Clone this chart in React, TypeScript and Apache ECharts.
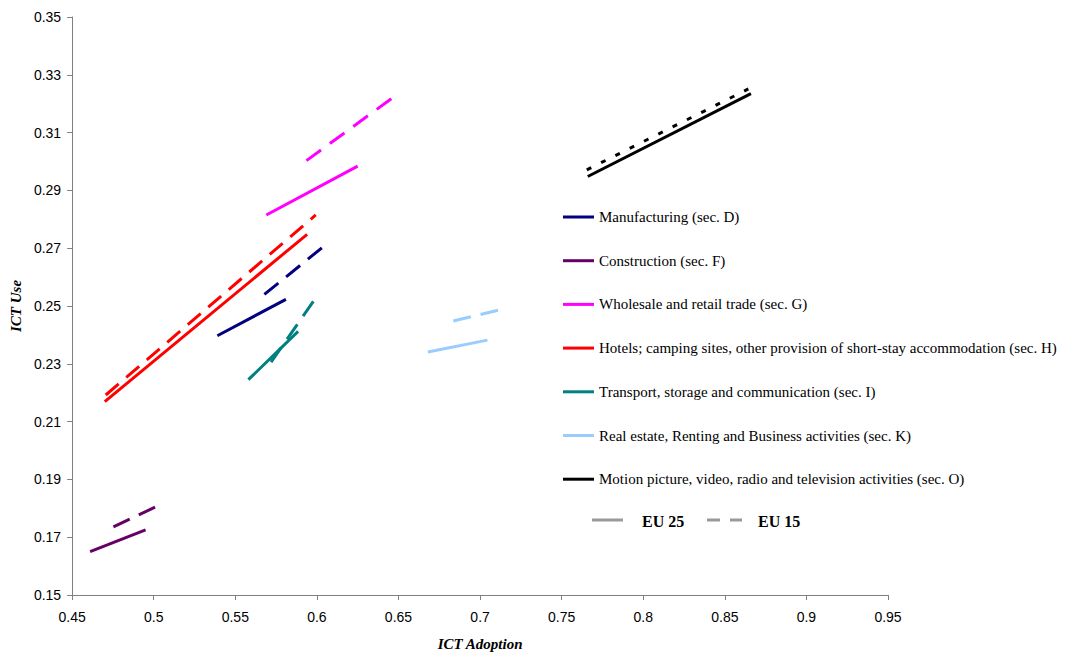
import React, { useEffect, useRef } from "react";
import * as echarts from "echarts";

const sectors = [
  "Manufacturing (sec. D)",
  "Construction (sec. F)",
  "Wholesale and retail trade (sec. G)",
  "Hotels; camping sites, other provision of short-stay accommodation (sec. H)",
  "Transport, storage and communication (sec. I)",
  "Real estate, Renting and Business activities (sec. K)",
  "Motion picture, video, radio and television activities (sec. O)",
];
const colors = ["#000080", "#660066", "#FF00FF", "#FF0000", "#008080", "#99CCFF", "#000000"];

// EU 25 (solid)
const eu25AdoptionStart = [0.539, 0.461, 0.569, 0.47, 0.558, 0.668, 0.766];
const eu25AdoptionEnd = [0.581, 0.495, 0.625, 0.594, 0.5885, 0.7045, 0.866];
const eu25UseStart = [0.2397, 0.165, 0.2815, 0.2169, 0.2245, 0.2341, 0.2948];
const eu25UseEnd = [0.2523, 0.1725, 0.2984, 0.2748, 0.2412, 0.2382, 0.3235];

// EU 15 (dashed)
const eu15AdoptionStart = [0.5678, 0.4753, 0.5936, 0.4706, 0.5719, 0.6836, 0.7654];
const eu15AdoptionEnd = [0.6058, 0.5039, 0.6482, 0.5993, 0.5983, 0.7143, 0.8644];
const eu15UseStart = [0.254, 0.1736, 0.3003, 0.2192, 0.2306, 0.2448, 0.2971];
const eu15UseEnd = [0.2714, 0.1812, 0.3228, 0.2815, 0.252, 0.249, 0.3251];

const dashPatterns = [[18, 10], [18, 10], [18, 11], [17, 10], [18, 10], [18, 10], [5, 11]];

const xTicks = { min: 0.45, max: 0.95, interval: 0.05 };
const yTicks = { min: 0.15, max: 0.35, interval: 0.02 };

export default function App() {
  const ref = useRef<HTMLDivElement>(null);
  useEffect(() => {
    if (!ref.current) return;
    const chart = echarts.init(ref.current, undefined, { renderer: "svg" });
    const series: any[] = [];
    sectors.forEach((name, i) => {
      series.push({
        name,
        type: "line",
        showSymbol: false,
        symbol: "none",
        color: colors[i],
        lineStyle: { color: colors[i], width: 3, type: "solid" },
        data: [
          [eu25AdoptionStart[i], eu25UseStart[i]],
          [eu25AdoptionEnd[i], eu25UseEnd[i]],
        ],
      });
    });
    sectors.forEach((name, i) => {
      series.push({
        name,
        type: "line",
        showSymbol: false,
        symbol: "none",
        color: colors[i],
        lineStyle: { color: colors[i], width: 3, type: dashPatterns[i] },
        data: [
          [eu15AdoptionStart[i], eu15UseStart[i]],
          [eu15AdoptionEnd[i], eu15UseEnd[i]],
        ],
      });
    });
    const axisFont = { fontFamily: "Liberation Sans", fontSize: 14, color: "#000" };
    const nameFont = {
      fontFamily: "Liberation Serif",
      fontSize: 15,
      fontWeight: "bold",
      fontStyle: "italic",
      color: "#000",
    };
    chart.setOption({
      animation: false,
      backgroundColor: "#fff",
      grid: { left: 72, right: 179, top: 17, bottom: 58, containLabel: false },
      xAxis: {
        type: "value",
        min: xTicks.min,
        max: xTicks.max,
        interval: xTicks.interval,
        name: "ICT Adoption",
        nameLocation: "middle",
        nameGap: 41,
        nameTextStyle: nameFont,
        axisLine: { lineStyle: { color: "#808080", width: 1 } },
        axisTick: { show: true, length: 5, lineStyle: { color: "#808080" } },
        axisLabel: { ...axisFont, margin: 15, formatter: (v: number) => String(+v.toFixed(2)) },
        splitLine: { show: false },
      },
      yAxis: {
        type: "value",
        min: yTicks.min,
        max: yTicks.max,
        interval: yTicks.interval,
        name: "ICT Use",
        nameLocation: "middle",
        nameGap: 48,
        nameTextStyle: nameFont,
        axisLine: { show: true, lineStyle: { color: "#808080", width: 1 } },
        axisTick: { show: true, length: 5, lineStyle: { color: "#808080" } },
        axisLabel: { ...axisFont, margin: 11, formatter: (v: number) => v.toFixed(2) },
        splitLine: { show: false },
      },
      legend: {
        orient: "vertical",
        left: 563,
        top: 209,
        padding: 0,
        icon: "rect",
        itemWidth: 31,
        itemHeight: 3,
        itemGap: 27.7,
        data: sectors,
        selectedMode: false,
        textStyle: { fontFamily: "Liberation Serif", fontSize: 15, color: "#000", lineHeight: 16 },
      },
      graphic: [
        { type: "line", shape: { x1: 592, y1: 520, x2: 623, y2: 520 }, style: { stroke: "#999", lineWidth: 3 } },
        {
          type: "text",
          x: 642,
          y: 521,
          style: { text: "EU 25", font: "bold 16px 'Liberation Serif'", fill: "#000", verticalAlign: "middle" },
        },
        { type: "line", shape: { x1: 707, y1: 520, x2: 720, y2: 520 }, style: { stroke: "#999", lineWidth: 3 } },
        { type: "line", shape: { x1: 730, y1: 520, x2: 742, y2: 520 }, style: { stroke: "#999", lineWidth: 3 } },
        {
          type: "text",
          x: 758,
          y: 521,
          style: { text: "EU 15", font: "bold 16px 'Liberation Serif'", fill: "#000", verticalAlign: "middle" },
        },
      ],
      series,
    });
    return () => chart.dispose();
  }, []);
  return <div ref={ref} style={{ width: 1067, height: 656, position: "absolute", left: 0, top: 0 }} />;
}
